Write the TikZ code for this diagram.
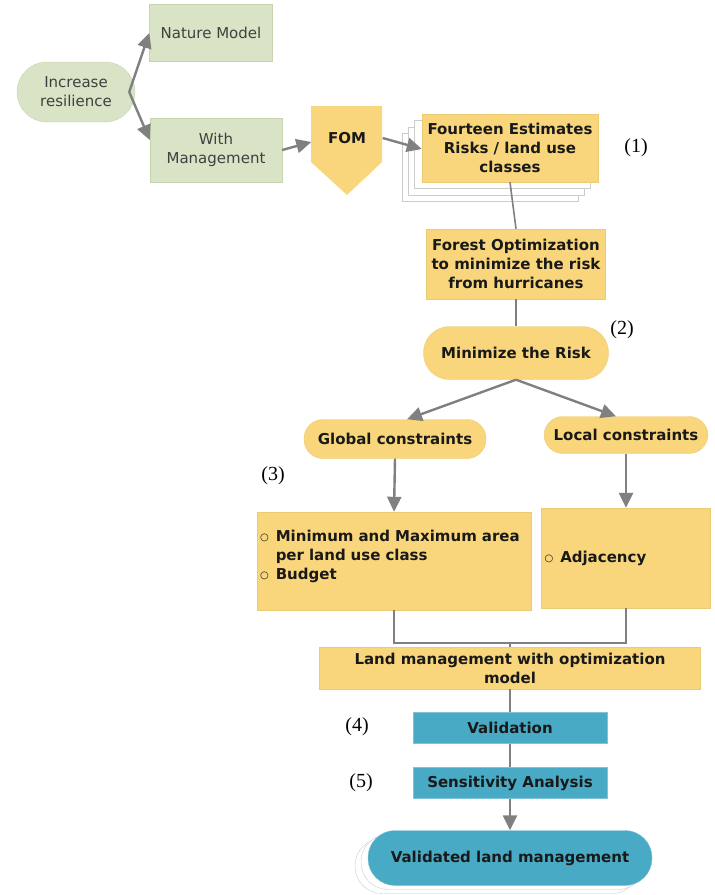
\documentclass[tikz,border=0pt]{standalone}
\usepackage{fontspec}
\setmainfont{DejaVu Sans}
\newfontfamily\numfont{Liberation Serif}
\usepackage{tikz}
\usetikzlibrary{arrows.meta,shadows}

\definecolor{natgreen}{HTML}{D8E4C5}
\definecolor{natedge}{HTML}{C6D4B2}
\definecolor{gold}{HTML}{F9D67B}
\definecolor{goldedge}{HTML}{EBCB73}
\definecolor{teal}{HTML}{48AAC4}
\definecolor{tealedge}{HTML}{7FC3D6}
\definecolor{linkgray}{HTML}{808080}
\newcommand{\bul}{\makebox[1.05em][l]{\raisebox{1pt}{\fontsize{10}{10}\selectfont ○}}}

\begin{document}
\begin{tikzpicture}[
  x=1pt, y=-1pt,
  every node/.style={font=\fontsize{15}{19}\selectfont, text=black!90},
  natbox/.style={rectangle, draw=natedge, fill=natgreen, align=center, text=black!75},
  natpill/.style={natbox, rounded corners=30pt},
  goldbox/.style={rectangle, draw=goldedge, fill=gold, align=center, font=\fontsize{15}{19}\selectfont\bfseries},
  goldpill/.style={goldbox, rounded corners=19pt},
  tealbox/.style={rectangle, draw=tealedge, fill=teal, align=center, font=\fontsize{15}{19}\selectfont\bfseries},
  stepno/.style={font=\numfont\fontsize{20}{22}\selectfont, text=black},
  arrow/.style={-{Triangle[length=15pt, width=14pt]}, linkgray, line width=2.4pt},
  link/.style={linkgray, line width=1.6pt}
]
  \useasboundingbox (0,0) rectangle (715,895);

  % left part
  \node[natpill, minimum width=118pt, minimum height=60pt] (inc) at (76,92) {Increase\\resilience};
  \node[natbox, minimum width=123pt, minimum height=57pt] (nat) at (211,33) {Nature Model};
  \node[natbox, minimum width=132pt, minimum height=64pt] (withm) at (216,150) {With\\Management};

  % FOM pentagon
  \fill[gold] (311,106) -- (382,106) -- (382,162) -- (347,195) -- (311,162) -- cycle;
  \node[font=\fontsize{15}{19}\selectfont\bfseries, minimum width=71pt, minimum height=56pt] (fom) at (347,138) {FOM};

  \node[goldbox, minimum width=176pt, minimum height=68pt,
    copy shadow={shadow xshift=-20pt, shadow yshift=-19pt, fill=white, draw=black!20},
    copy shadow={shadow xshift=-14pt, shadow yshift=-13pt, fill=white, draw=black!20},
    copy shadow={shadow xshift=-8pt, shadow yshift=-6.5pt, fill=white, draw=black!20}]
    (risks) at (510,148) {Fourteen Estimates\\Risks / land use\\classes};
  \node[stepno] (n1) at (636,148) {(1)};

  \node[goldbox, minimum width=179pt, minimum height=70pt] (forest) at (516,264) {Forest Optimization\\to minimize the risk\\from hurricanes};
  \node[goldpill, minimum width=185pt, minimum height=53pt, rounded corners=26pt] (mini) at (516,353) {Minimize the Risk};
  \node[stepno] (n2) at (622,330) {(2)};

  % constraints
  \node[goldpill, minimum width=182pt, minimum height=39pt] (glob) at (395,439) {Global constraints};
  \node[goldpill, minimum width=164pt, minimum height=37pt] (loc) at (626,435) {Local constraints};
  \node[stepno] (n3) at (273,476) {(3)};
  \node[goldbox, minimum width=274pt, minimum height=98pt, text width=268pt, align=left, inner xsep=3pt] (globbox) at (394,561)
    {\bul Minimum and Maximum area\\\hspace*{1.05em}per land use class\\\bul Budget\\[-7pt]\mbox{}};
  \node[goldbox, minimum width=169pt, minimum height=100pt, text width=163pt, align=left, inner xsep=3pt] (locbox) at (626,558)
    {\bul Adjacency};

  % bottom part
  \node[goldbox, minimum width=381pt, minimum height=42pt] (land) at (510,668) {Land management with optimization\\model};
  \coordinate (merge) at (510,643);
  \node[tealbox, minimum width=194pt, minimum height=31pt] (valid) at (510,728) {Validation};
  \node[stepno] (n4) at (357,727) {(4)};
  \node[tealbox, minimum width=194pt, minimum height=31pt] (sens) at (510,783) {Sensitivity Analysis};
  \node[stepno] (n5) at (361,783) {(5)};
  \node[tealbox, minimum width=284pt, minimum height=55pt, rounded corners=27pt,
    copy shadow={shadow xshift=-13pt, shadow yshift=-8pt, fill=white, draw=black!20},
    copy shadow={shadow xshift=-7pt, shadow yshift=-4pt, fill=white, draw=black!20}]
    (final) at (510,858) {Validated land management};

  \draw[arrow] ([xshift=-6pt]inc.east) -- (nat.west);
  \draw[arrow] ([xshift=-6pt]inc.east) -- ([yshift=10pt]withm.west);
  \draw[arrow] (withm.east) -- ([yshift=-4pt]fom.west);
  \draw[arrow] (fom.east) -- ([yshift=-1pt]risks.west);
  \draw[link] (risks.south) -- (forest.north);
  \draw[link] (forest.south) -- (mini.north);
  \draw[arrow] (mini.south) -- ([xshift=12pt]glob.north);
  \draw[arrow] (mini.south) -- ([xshift=-10pt]loc.north);
  \draw[arrow] (glob.south) -- (globbox.north);
  \draw[arrow] (loc.south) -- (locbox.north);
  \draw[link] (globbox.south) |- (merge) -| (locbox.south);
  \draw[link] (merge) -- (land.north);
  \draw[link] (land.south) -- (valid.north);
  \draw[link] (valid.south) -- (sens.north);
  \draw[arrow] (sens.south) -- (final.north);
\end{tikzpicture}
\end{document}
